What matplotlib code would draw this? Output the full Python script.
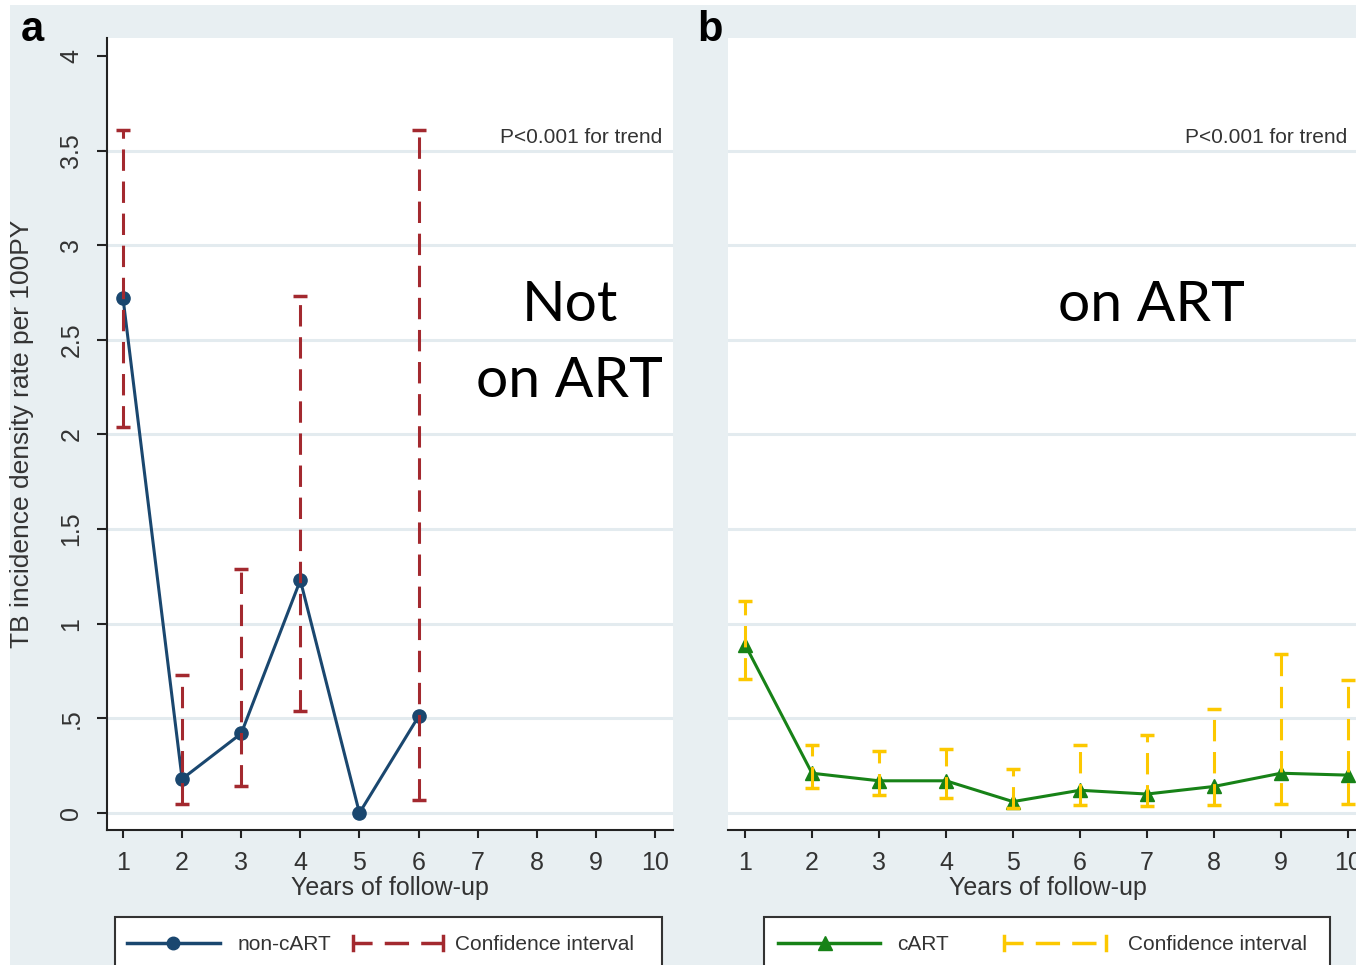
import matplotlib
matplotlib.use("Agg")
import matplotlib.pyplot as plt
from matplotlib.patches import Rectangle
from matplotlib.lines import Line2D
import numpy as np

# panel a: not on ART
years_a = [1, 2, 3, 4, 5, 6]
rate_a = [2.72, 0.18, 0.42, 1.23, 0.0, 0.51]
ci_years_a = [1, 2, 3, 4, 6]
ci_lo_a = [2.04, 0.05, 0.14, 0.54, 0.07]
ci_hi_a = [3.61, 0.73, 1.29, 2.73, 3.61]

# panel b: on ART
years_b = [1, 2, 3, 4, 5, 6, 7, 8, 9, 10]
rate_b = [0.89, 0.21, 0.17, 0.17, 0.06, 0.12, 0.10, 0.14, 0.21, 0.20]
ci_lo_b = [0.71, 0.13, 0.095, 0.08, 0.025, 0.04, 0.035, 0.04, 0.05, 0.05]
ci_hi_b = [1.12, 0.36, 0.33, 0.34, 0.23, 0.36, 0.41, 0.55, 0.84, 0.70]

yticks = [0, 0.5, 1, 1.5, 2, 2.5, 3, 3.5, 4]
ytick_labels = ["0", ".5", "1", "1.5", "2", "2.5", "3", "3.5", "4"]
grid_vals = [0, 0.5, 1, 1.5, 2, 2.5, 3, 3.5]
xticks = list(range(1, 11))

plt.rcParams['font.family'] = ['Liberation Sans Narrow', 'Liberation Sans', 'DejaVu Sans']

W, H = 1356, 965
BG = '#e8eff2'
GRID = '#e3ebef'
TXT = '#333333'
NAVY = '#1a476f'
RED = '#a3292f'
GREEN = '#178217'
YELLOW = '#fcc800'
DASH = (0, (7, 3.5))

fig = plt.figure(figsize=(W / 100, H / 100), dpi=100, facecolor='white')


def px_axes(x0, y0, x1, y1, **kw):
    # pixel box (top-left origin) -> figure fraction
    return fig.add_axes([x0 / W, 1 - y1 / H, (x1 - x0) / W, (y1 - y0) / H], **kw)


# background / overlay axes
bg = px_axes(0, 0, W, H, zorder=0)
bg.set_xlim(0, W)
bg.set_ylim(H, 0)
bg.axis('off')
bg.add_patch(Rectangle((10, 5), W - 10, H - 5, facecolor=BG, edgecolor='none'))


def setup(ax, show_y):
    ax.set_facecolor('white')
    ax.set_ylim(-0.09, 4.095)
    for v in grid_vals:
        ax.axhline(v, color=GRID, lw=2.2, zorder=0)
    for s in ['top', 'right']:
        ax.spines[s].set_visible(False)
    ax.spines['bottom'].set_color('#222222')
    ax.spines['bottom'].set_linewidth(1.5)
    ax.set_xticks(xticks)
    ax.tick_params(axis='x', length=6, width=1.5, color='#222222', pad=9,
                   labelsize=18, labelcolor=TXT)
    if show_y:
        ax.spines['left'].set_color('#222222')
        ax.spines['left'].set_linewidth(1.5)
        ax.set_yticks(yticks)
        ax.set_yticklabels(ytick_labels, rotation=90, va='center')
        ax.tick_params(axis='y', length=7, width=1.5, color='#222222', pad=10,
                       labelsize=18, labelcolor=TXT)
    else:
        ax.spines['left'].set_visible(False)
        ax.set_yticks([])
    ax.set_xlabel('Years of follow-up', fontsize=18, color=TXT, va='center')
    ax.xaxis.set_label_coords(0.5, -0.073)


BIG = dict(ha='center', va='center', fontsize=41, family=['Lato', 'DejaVu Sans'], color='black')

# panel a
ax1 = px_axes(107, 38, 673, 830, zorder=1)
ax1.set_xlim(0.729, 10.305)
setup(ax1, True)
ax1.set_ylabel('TB incidence density rate per 100PY', fontsize=19, color=TXT, va='center')
ax1.yaxis.set_label_coords(-0.150, 0.5)
ax1.plot(years_a, rate_a, color=NAVY, lw=2.2, marker='o', ms=9.5, zorder=3)
ci_a = np.array(ci_years_a, dtype=float)
eb = ax1.errorbar(ci_a, (np.array(ci_lo_a) + np.array(ci_hi_a)) / 2,
                  yerr=(np.array(ci_hi_a) - np.array(ci_lo_a)) / 2,
                  fmt='none', ecolor=RED, elinewidth=2.2, capsize=5, capthick=2.5, zorder=4)
eb[2][0].set_linestyle(DASH)
ax1.text(10.12, 3.57, 'P<0.001 for trend', ha='right', va='center', fontsize=15, color=TXT)
ax1.text(8.56, 2.684, 'Not', **BIG)
ax1.text(8.56, 2.28, 'on ART', **BIG)

# panel b
ax2 = px_axes(728, 38, 1368, 830, zorder=1)
ax2.set_xlim(0.746, 10.3)
setup(ax2, False)
ax2.plot(years_b, rate_b, color=GREEN, lw=2.2, marker='^', ms=10, zorder=3)
eb2 = ax2.errorbar(years_b, (np.array(ci_lo_b) + np.array(ci_hi_b)) / 2,
                   yerr=(np.array(ci_hi_b) - np.array(ci_lo_b)) / 2,
                   fmt='none', ecolor=YELLOW, elinewidth=2.2, capsize=5, capthick=2.5, zorder=4)
eb2[2][0].set_linestyle(DASH)
ax2.text(9.99, 3.57, 'P<0.001 for trend', ha='right', va='center', fontsize=15, color=TXT)
ax2.text(7.06, 2.684, 'on ART', **BIG)

# panel letters
bg.text(32, 41, 'a', ha='center', va='baseline', fontsize=30, fontweight='bold',
        family=['Liberation Sans', 'DejaVu Sans'])
bg.text(710, 41, 'b', ha='center', va='baseline', fontsize=30, fontweight='bold',
        family=['Liberation Sans', 'DejaVu Sans'])


# legends (drawn in pixel space)
def legend_box(x0, x1, line_x, mk_x, color, marker, label, ci_x, ci_color, text_x, ci_text_x):
    bg.add_patch(Rectangle((x0, 917), x1 - x0, 60, facecolor='white',
                           edgecolor='#333333', lw=1.5))
    yy = 943
    bg.add_line(Line2D(line_x, [yy, yy], color=color, lw=2.5))
    bg.plot([mk_x], [yy], marker=marker, color=color, ms=10 if marker == '^' else 9)
    bg.text(text_x, yy + 1, label, ha='left', va='center', fontsize=15, color=TXT)
    bg.add_line(Line2D(ci_x, [yy, yy], color=ci_color, lw=2.5, linestyle=(1.5, (7, 3.5))))
    for cx in ci_x:
        bg.add_line(Line2D([cx, cx], [yy - 7, yy + 7], color=ci_color, lw=2.5))
    bg.text(ci_text_x, yy + 1, 'Confidence interval', ha='left', va='center',
            fontsize=15, color=TXT)


legend_box(115, 662, [127, 220], 173, NAVY, 'o', 'non-cART', [353, 443], RED, 238, 455)
legend_box(764, 1330, [778, 880], 825, GREEN, '^', 'cART', [1004, 1106], YELLOW, 897, 1128)

fig.savefig('out.png', dpi=100, facecolor='white')
